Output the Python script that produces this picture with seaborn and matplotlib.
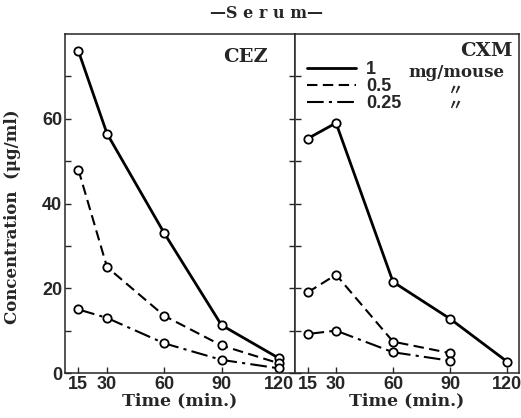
import matplotlib
matplotlib.use("Agg")
import matplotlib.pyplot as plt
import seaborn as sns
from matplotlib.lines import Line2D

# ---- data ----
times = [15, 30, 60, 90, 120]
times_cxm_low = [15, 30, 60, 90]
cez_1 = [76, 56.5, 33, 11.3, 3.5]
cez_05 = [48, 25, 13.5, 6.5, 2.3]
cez_025 = [15, 13, 7, 3.1, 1.1]
cxm_1 = [55.3, 59, 21.5, 12.8, 2.7]
cxm_05 = [19, 23.2, 7.4, 4.7]
cxm_025 = [9.2, 10, 4.9, 2.9]
dose_labels = ["1", "0.5", "0.25"]
panel_names = ["CEZ", "CXM"]
x_ticks = [15, 30, 60, 90, 120]
y_ticks = [0, 10, 20, 30, 40, 50, 60, 70]
y_tick_labels = ["0", "", "20", "", "40", "", "60", ""]

sns.set_style("ticks")
plt.rcParams["font.family"] = ["DejaVu Serif"]

SERIF = "DejaVu Serif"
SANS = "Liberation Sans"

styles = [
    dict(lw=2.0, dashes=None),
    dict(lw=1.5, dashes=(5, 2.6)),
    dict(lw=1.5, dashes=(8, 2.5, 1.5, 2.5)),
]

fig = plt.figure(figsize=(5.21, 4.18), dpi=100)
W, H = 521, 418
ax1 = fig.add_axes([65 / W, 45 / H, 230 / W, 339 / H])
ax2 = fig.add_axes([295 / W, 45 / H, 224 / W, 339 / H])


def draw(ax, xs_list, ys_list):
    for xs, ys, st in zip(xs_list, ys_list, styles):
        sns.lineplot(x=xs, y=ys, ax=ax, color="black", lw=st["lw"],
                     marker="o", markersize=6, markerfacecolor="white",
                     markeredgecolor="black", markeredgewidth=1.3)
        ln = ax.lines[-1]
        if st["dashes"] is not None:
            ln.set_dashes(st["dashes"])


draw(ax1, [times, times, times], [cez_1, cez_05, cez_025])
draw(ax2, [times, times_cxm_low, times_cxm_low], [cxm_1, cxm_05, cxm_025])

ax1.set_xlim(8, 128.5)
ax2.set_xlim(8.4, 126.3)
for ax in (ax1, ax2):
    ax.set_ylim(0, 80)
    ax.set_xticks(x_ticks)
    ax.set_xticklabels([str(t) for t in x_ticks], fontfamily=SANS,
                       fontweight="bold", fontsize=13)
    ax.set_yticks(y_ticks)
    for sp in ax.spines.values():
        sp.set_visible(True)
        sp.set_linewidth(1.1)
    ax.tick_params(direction="in", length=4, width=1.0, pad=2)
    ax.set_xlabel("Time (min.)", fontfamily=SERIF, fontweight="bold",
                  fontsize=12.5, labelpad=0)

ax1.set_yticklabels(y_tick_labels, fontfamily=SANS, fontweight="bold",
                    fontsize=13)
ax1.tick_params(axis="y", left=True, right=True, pad=2)
ax2.set_yticklabels([])
ax2.tick_params(axis="y", left=True, right=False)

ax1.set_ylabel("Concentration  (μg/ml)", fontfamily=SERIF,
               fontweight="bold", fontsize=12)
ax1.yaxis.set_label_coords(-0.19, 0.46)
ax2.set_ylabel("")

ax1.text(0.883, 0.959, panel_names[0], transform=ax1.transAxes,
         ha="right", va="top", fontfamily=SERIF, fontweight="bold",
         fontsize=14)
ax2.text(0.973, 0.976, panel_names[1], transform=ax2.transAxes,
         ha="right", va="top", fontfamily=SERIF, fontweight="bold",
         fontsize=14)

handles = [Line2D([], [], color="black", lw=st["lw"],
                  **({"dashes": st["dashes"]} if st["dashes"] else {}))
           for st in styles]
leg = ax2.legend(handles=handles, labels=dose_labels, loc="upper left",
                 bbox_to_anchor=(0.054, 0.92), frameon=False,
                 handlelength=2.7, handletextpad=0.55, labelspacing=0.0,
                 borderpad=0, borderaxespad=0,
                 prop={"family": SANS, "weight": "bold", "size": 13})

ax2.text(0.504, 0.885, "mg/mouse", transform=ax2.transAxes, ha="left",
         va="center", fontfamily=SERIF, fontweight="bold", fontsize=12)
for yy in (0.835, 0.791):
    ax2.text(0.714, yy, "〃", transform=ax2.transAxes, ha="center",
             va="center", family=["Noto Sans CJK JP", "DejaVu Sans"],
             fontsize=11, fontweight="bold")

fig.text(267 / W, 1 - 14 / H, "—S e r u m—", ha="center", va="center",
         fontfamily=SERIF, fontweight="bold", fontsize=11.5)

fig.savefig("out.png", dpi=100)
